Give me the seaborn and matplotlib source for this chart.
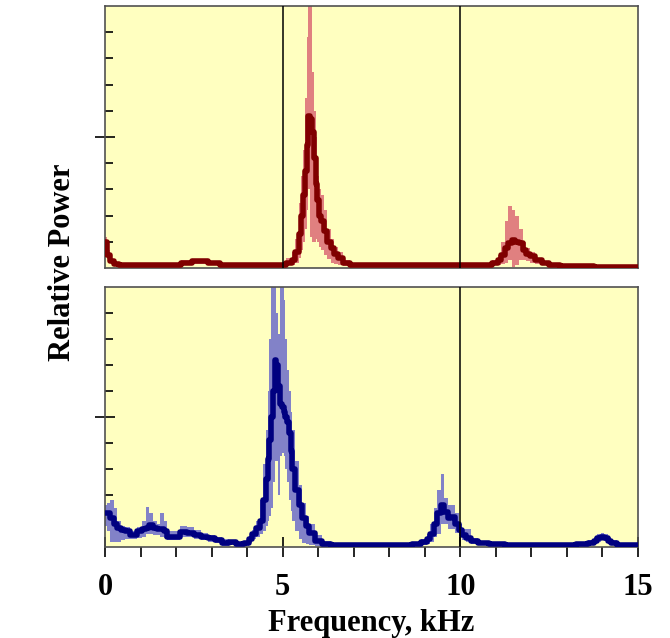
import matplotlib
matplotlib.use("Agg")
import matplotlib.pyplot as plt
import seaborn as sns
from matplotlib.ticker import MultipleLocator, FixedLocator

# ---- data (frequency in kHz, relative power 0..1) ----
f_top = [0.0, 0.1, 0.2, 0.3, 0.5, 1.0, 1.5, 2.0, 2.3, 2.6, 2.8, 3.0, 3.5, 4.0, 4.5,
         5.0, 5.2, 5.3, 5.4, 5.5, 5.55, 5.6, 5.65, 5.7, 5.75, 5.8, 5.85, 5.9, 5.95,
         6.0, 6.05, 6.1, 6.2, 6.3, 6.4, 6.5, 6.6, 6.8, 7.0, 7.5, 8.0, 8.5, 9.0, 9.5,
         10.0, 10.5, 10.8, 11.0, 11.1, 11.2, 11.3, 11.4, 11.5, 11.6, 11.7, 11.8, 11.9,
         12.0, 12.2, 12.4, 12.6, 13.0, 13.5, 14.0, 14.5, 15.0]
mean_top = [0.10, 0.05, 0.025, 0.015, 0.01, 0.01, 0.01, 0.012, 0.02, 0.025, 0.025, 0.018, 0.012, 0.012, 0.012,
            0.012, 0.02, 0.03, 0.06, 0.13, 0.2, 0.28, 0.37, 0.47, 0.58, 0.57, 0.52, 0.42, 0.32,
            0.26, 0.2, 0.18, 0.14, 0.1, 0.077, 0.055, 0.04, 0.02, 0.012, 0.01, 0.01, 0.01, 0.01, 0.01,
            0.01, 0.01, 0.012, 0.02, 0.03, 0.05, 0.075, 0.096, 0.105, 0.1, 0.095, 0.07, 0.055,
            0.045, 0.03, 0.018, 0.012, 0.008, 0.006, 0.005, 0.005, 0.005]
upper_top = [0.12, 0.07, 0.035, 0.02, 0.015, 0.015, 0.015, 0.018, 0.03, 0.035, 0.035, 0.025, 0.018, 0.016, 0.016,
             0.02, 0.04, 0.06, 0.11, 0.25, 0.35, 0.45, 0.65, 0.88, 1.05, 1.05, 0.75, 0.6, 0.5,
             0.35, 0.3, 0.28, 0.22, 0.15, 0.11, 0.08, 0.06, 0.032, 0.018, 0.013, 0.013, 0.013, 0.013, 0.013,
             0.013, 0.013, 0.018, 0.03, 0.05, 0.1, 0.18, 0.235, 0.22, 0.2, 0.15, 0.1, 0.075,
             0.06, 0.04, 0.025, 0.015, 0.01, 0.008, 0.007, 0.007, 0.007]
lower_top = [0.08, 0.035, 0.018, 0.01, 0.006, 0.006, 0.006, 0.007, 0.012, 0.015, 0.015, 0.01, 0.007, 0.007, 0.007,
             0.007, 0.01, 0.012, 0.02, 0.04, 0.07, 0.1, 0.15, 0.22, 0.3, 0.12, 0.1, 0.1, 0.11,
             0.1, 0.08, 0.07, 0.05, 0.035, 0.02, 0.015, 0.01, 0.008, 0.006, 0.006, 0.006, 0.006, 0.006, 0.006,
             0.006, 0.006, 0.007, 0.01, 0.012, 0.015, 0.02, 0.03, 0.005, 0.01, 0.03, 0.03, 0.025,
             0.02, 0.015, 0.01, 0.007, 0.005, 0.004, 0.003, 0.003, 0.003]

f_bot = [0.0, 0.1, 0.2, 0.3, 0.4, 0.5, 0.6, 0.8, 1.0, 1.1, 1.2, 1.3, 1.4, 1.5, 1.6, 1.7, 1.8,
         2.0, 2.2, 2.4, 2.6, 2.8, 3.0, 3.2, 3.4, 3.6, 3.8, 4.0, 4.1, 4.2, 4.3, 4.4, 4.5,
         4.55, 4.6, 4.65, 4.7, 4.75, 4.8, 4.85, 4.9, 4.95, 5.0, 5.05, 5.1, 5.15, 5.2, 5.25,
         5.3, 5.4, 5.5, 5.6, 5.7, 5.8, 6.0, 6.2, 6.5, 7.0, 7.5, 8.0, 8.5, 8.8, 9.0, 9.1,
         9.2, 9.3, 9.4, 9.5, 9.6, 9.7, 9.8, 9.9, 10.0, 10.1, 10.2, 10.4, 10.6, 11.0, 11.5,
         12.0, 12.5, 13.0, 13.5, 13.7, 13.8, 13.9, 14.0, 14.1, 14.2, 14.3, 14.5, 15.0]
mean_bot = [0.13, 0.13, 0.11, 0.09, 0.075, 0.065, 0.06, 0.048, 0.06, 0.07, 0.075, 0.085, 0.075, 0.07, 0.07, 0.06, 0.04,
            0.04, 0.058, 0.055, 0.045, 0.04, 0.033, 0.028, 0.015, 0.018, 0.012, 0.015, 0.03, 0.05, 0.075, 0.1, 0.18,
            0.26, 0.34, 0.41, 0.5, 0.6, 0.72, 0.7, 0.62, 0.55, 0.54, 0.52, 0.5, 0.48, 0.44, 0.37,
            0.3, 0.22, 0.16, 0.11, 0.08, 0.055, 0.025, 0.012, 0.008, 0.008, 0.008, 0.008, 0.008, 0.01, 0.018, 0.03,
            0.05, 0.09, 0.13, 0.16, 0.135, 0.11, 0.115, 0.09, 0.065, 0.045, 0.035, 0.022, 0.015, 0.01, 0.008,
            0.008, 0.008, 0.008, 0.01, 0.015, 0.025, 0.033, 0.038, 0.035, 0.025, 0.017, 0.008, 0.006]
upper_bot = [0.16, 0.17, 0.18, 0.15, 0.1, 0.08, 0.075, 0.06, 0.075, 0.1, 0.155, 0.13, 0.1, 0.09, 0.13, 0.1, 0.06,
             0.06, 0.08, 0.075, 0.065, 0.055, 0.045, 0.04, 0.03, 0.028, 0.02, 0.022, 0.04, 0.065, 0.1, 0.18, 0.32,
             0.45, 0.6, 0.8, 1.05, 1.05, 1.05, 0.9, 0.82, 1.05, 1.05, 0.95, 0.8, 0.68, 0.6, 0.52,
             0.45, 0.33, 0.24, 0.17, 0.12, 0.09, 0.045, 0.022, 0.012, 0.012, 0.012, 0.012, 0.012, 0.015, 0.03, 0.05,
             0.09, 0.15, 0.22, 0.28, 0.19, 0.16, 0.16, 0.13, 0.09, 0.07, 0.07, 0.035, 0.022, 0.015, 0.012,
             0.012, 0.012, 0.012, 0.015, 0.025, 0.04, 0.05, 0.055, 0.05, 0.04, 0.028, 0.014, 0.01]
lower_bot = [0.08, 0.06, 0.02, 0.02, 0.02, 0.025, 0.03, 0.03, 0.035, 0.04, 0.05, 0.05, 0.045, 0.045, 0.04, 0.035, 0.025,
             0.025, 0.04, 0.04, 0.03, 0.025, 0.02, 0.015, 0.005, 0.008, 0.004, 0.005, 0.015, 0.03, 0.04, 0.05, 0.06,
             0.08, 0.1, 0.12, 0.15, 0.25, 0.33, 0.33, 0.2, 0.35, 0.36, 0.35, 0.3, 0.25, 0.18, 0.14,
             0.1, 0.06, 0.03, 0.015, 0.01, 0.006, 0.004, 0.004, 0.004, 0.004, 0.004, 0.004, 0.004, 0.004, 0.006, 0.01,
             0.02, 0.04, 0.05, 0.09, 0.09, 0.07, 0.07, 0.055, 0.04, 0.025, 0.02, 0.012, 0.008, 0.005, 0.004,
             0.004, 0.004, 0.004, 0.005, 0.008, 0.012, 0.02, 0.025, 0.022, 0.015, 0.008, 0.004, 0.003]

xticks = [0, 5, 10, 15]
top_vlines = [5, 10]
bot_vlines = [10]

sns.set_style("white")
plt.rcParams["font.family"] = ["Liberation Serif", "DejaVu Serif"]
plt.rcParams["font.weight"] = "bold"
plt.rcParams["text.color"] = "black"
plt.rcParams["xtick.color"] = "black"
plt.rcParams["xtick.labelcolor"] = "black"

fig = plt.figure(figsize=(6.7, 6.38), dpi=100)
ax1 = fig.add_axes([105/670, 1 - 268/638, 533/670, 262/638])
ax2 = fig.add_axes([105/670, 1 - 547/638, 533/670, 260/638])

panels = [
    (ax1, f_top, mean_top, lower_top, upper_top, "#E08080", "#800000", top_vlines),
    (ax2, f_bot, mean_bot, lower_bot, upper_bot, "#8282C8", "#000080", bot_vlines),
]

for ax, f, m, lo, hi, band_c, line_c, vl in panels:
    ax.set_facecolor("#FFFFC0")
    ax.fill_between(f, lo, hi, step="mid", color=band_c, lw=0, zorder=2)
    sns.lineplot(x=f, y=m, ax=ax, color=line_c, lw=4, drawstyle="steps-mid", zorder=3)
    for v in vl:
        ax.axvline(v, color="black", lw=1.1, zorder=4)
    ax.set_xlim(0, 15)
    ax.set_ylim(0, 1)
    for s in ax.spines.values():
        s.set_color("#505050")
        s.set_linewidth(1.2)
    ax.yaxis.set_major_locator(FixedLocator([0.5]))
    ax.yaxis.set_minor_locator(FixedLocator([0.1, 0.2, 0.3, 0.4, 0.6, 0.7, 0.8, 0.9]))
    ax.tick_params(axis="y", which="major", direction="inout", length=14, width=1.2,
                   color="black", labelleft=False, left=True)
    ax.tick_params(axis="y", which="minor", direction="in", length=6, width=1.2,
                   color="black", left=True)
    ax.set_ylabel("")
    ax.set_xlabel("")

ax1.tick_params(axis="x", which="both", bottom=False, labelbottom=False)

ax2.set_xticks(xticks)
ax2.xaxis.set_minor_locator(MultipleLocator(1))
ax2.tick_params(axis="x", which="major", direction="inout", length=14, width=1.2,
                color="black", labelcolor="black", bottom=True, labelsize=22, pad=12)
ax2.tick_params(axis="x", which="minor", direction="out", length=7, width=1.2,
                color="black", bottom=True)
ax2.set_xlabel("Frequency, kHz", fontsize=22, fontweight="bold", labelpad=5, color="black")

fig.text(62/670, 1 - 262/638, "Relative Power", rotation=90, ha="center", va="center",
         fontsize=22, fontweight="bold", color="black")

fig.savefig("out.png", dpi=100, facecolor="white")
